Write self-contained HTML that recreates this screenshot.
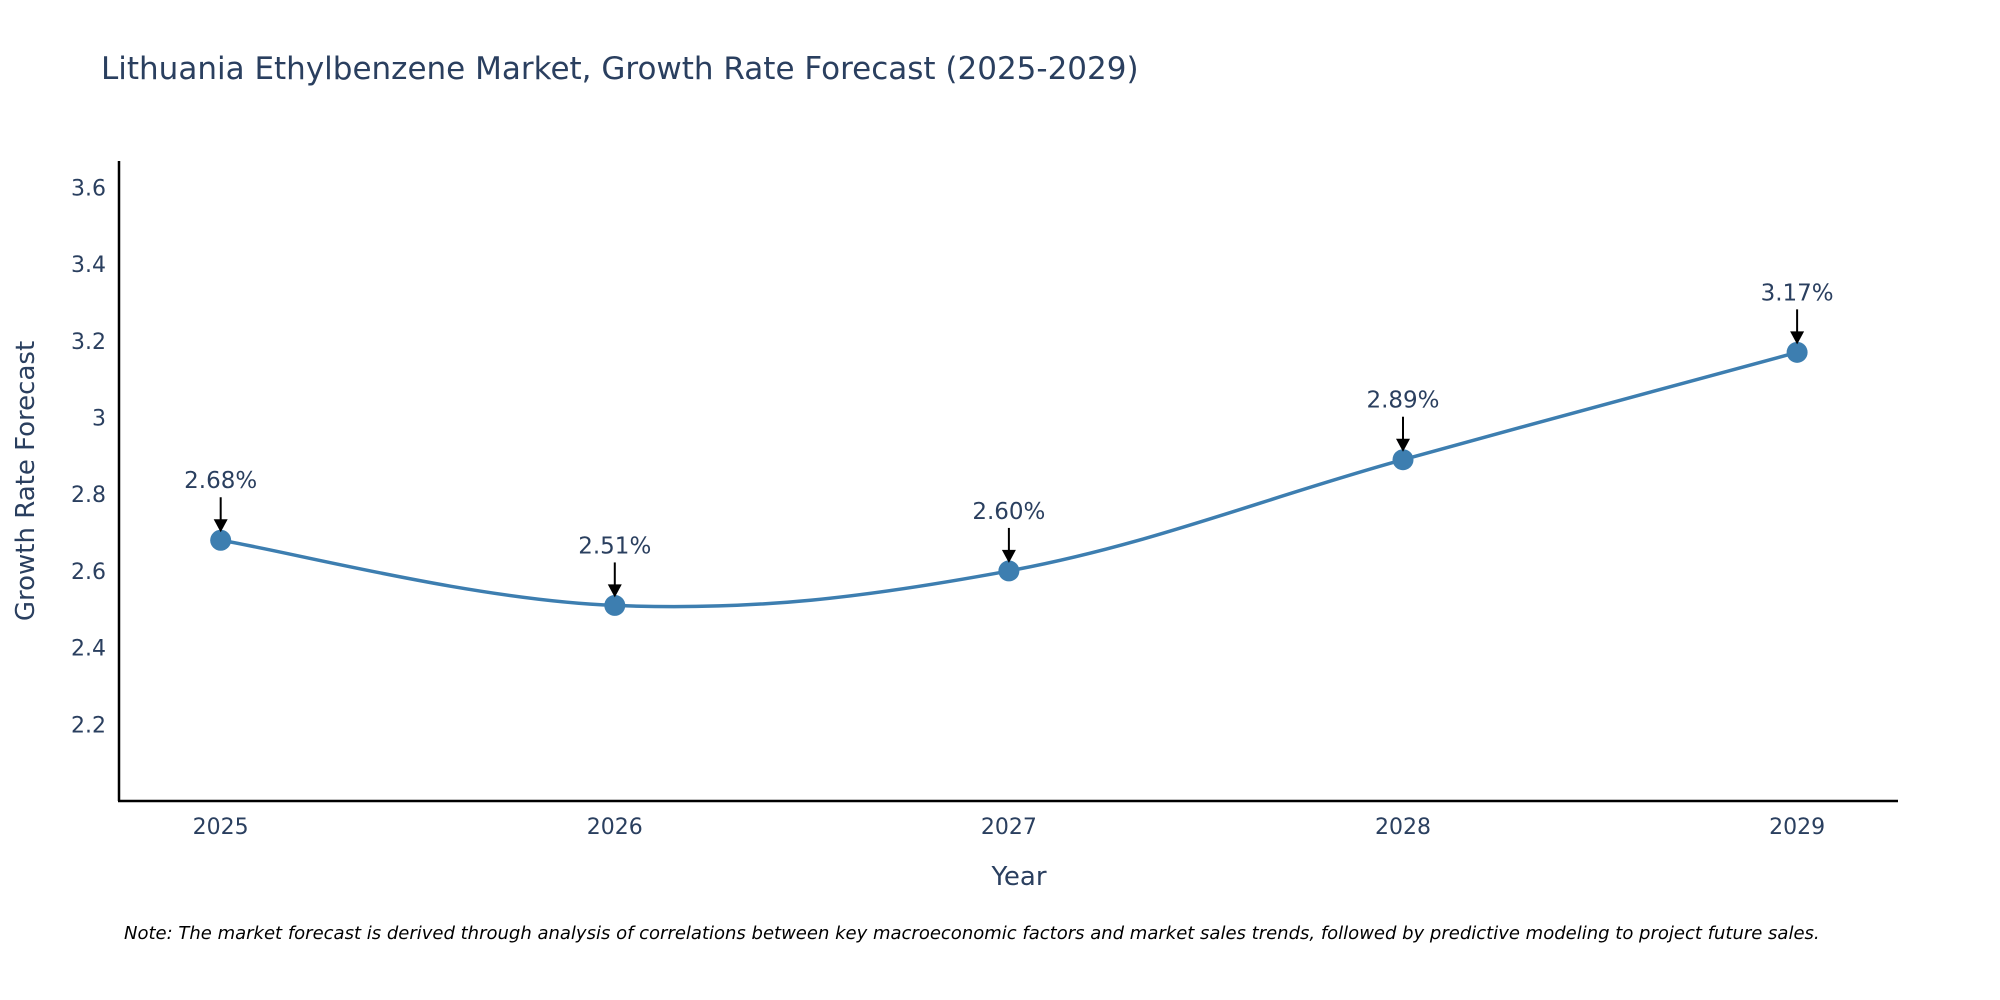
<!DOCTYPE html>
<html><head><meta charset="utf-8"><style>
html,body{margin:0;padding:0;background:#fff;}
svg{display:block;font-family:"DejaVu Sans","Liberation Sans",sans-serif;}
</style></head><body>
<svg id="chart" width="2000" height="1000">
<text x="101" y="79" font-size="31" fill="#2a3f5f">Lithuania Ethylbenzene Market, Growth Rate Forecast (2025-2029)</text>
<g id="yticks"></g>
<g id="xticks"></g>
<path id="line" fill="none" stroke="#3d7eb0" stroke-width="3.5"></path>
<g id="points"></g>
<g id="annos"></g>
<line x1="119" y1="161" x2="119" y2="801" stroke="#000" stroke-width="2.5"/>
<line x1="118" y1="801" x2="1898" y2="801" stroke="#000" stroke-width="2.5"/>
<text x="1019" y="885" font-size="26" fill="#2a3f5f" text-anchor="middle">Year</text>
<text transform="translate(34,481) rotate(-90)" font-size="26" fill="#2a3f5f" text-anchor="middle">Growth Rate Forecast</text>
<text x="124" y="939" font-size="18" font-style="italic" fill="#000">Note: The market forecast is derived through analysis of correlations between key macroeconomic factors and market sales trends, followed by predictive modeling to project future sales.</text>
</svg>
<script>
const years = [2025, 2026, 2027, 2028, 2029];
const values = [2.68, 2.51, 2.60, 2.89, 3.17];
const labels = ["2.68%", "2.51%", "2.60%", "2.89%", "3.17%"];
const yTicks = [2.2, 2.4, 2.6, 2.8, 3, 3.2, 3.4, 3.6];
const yTickLabels = ["2.2", "2.4", "2.6", "2.8", "3", "3.2", "3.4", "3.6"];

const X0 = 119, X1 = 1898, Y0 = 801, Y1 = 161;
const xMin = 2024.742, xMax = 2029.256, yMin = 2.0, yMax = 3.669;
const xs = v => X0 + (v - xMin) / (xMax - xMin) * (X1 - X0);
const ys = v => Y0 - (v - yMin) / (yMax - yMin) * (Y0 - Y1);
const NS = "http://www.w3.org/2000/svg";
function mk(tag, attrs, parent) {
  const e = document.createElementNS(NS, tag);
  for (const k in attrs) e.setAttribute(k, attrs[k]);
  parent.appendChild(e); return e;
}
const yg = document.getElementById('yticks');
yTicks.forEach((t, i) => {
  const e = mk('text', {x: 106, y: ys(t) + 8, 'font-size': 22, fill: '#2a3f5f', 'text-anchor': 'end'}, yg);
  
  
  e.textContent = yTickLabels[i];
});
const xg = document.getElementById('xticks');
years.forEach(y => {
  const e = mk('text', {x: xs(y), y: 834, 'font-size': 22, fill: '#2a3f5f', 'text-anchor': 'middle'}, xg);
  
  
  e.textContent = String(y);
});
const P = years.map((y, i) => [xs(y), ys(values[i])]);
let d = `M${P[0][0]},${P[0][1]}`;
const s = 0.18;
for (let i = 0; i < P.length - 1; i++) {
  const p0 = P[Math.max(0, i - 1)], p1 = P[i], p2 = P[i + 1], p3 = P[Math.min(P.length - 1, i + 2)];
  const c1 = [p1[0] + (p2[0] - p0[0]) * s, p1[1] + (p2[1] - p0[1]) * s];
  const c2 = [p2[0] - (p3[0] - p1[0]) * s, p2[1] - (p3[1] - p1[1]) * s];
  d += ` C${c1[0]},${c1[1]} ${c2[0]},${c2[1]} ${p2[0]},${p2[1]}`;
}
document.getElementById('line').setAttribute('d', d);
const pg = document.getElementById('points'), ag = document.getElementById('annos');
P.forEach((p, i) => {
  const c = mk('circle', {cx: p[0], cy: p[1], r: 10.5, fill: '#3d7eb0'}, pg);
  
  
  const l = mk('line', {x1: p[0], y1: p[1] - 43, x2: p[0], y2: p[1] - 20, stroke: '#000', 'stroke-width': 2}, ag);
  
  
  const h = mk('path', {d: `M${p[0]-7},${p[1]-21} L${p[0]+7},${p[1]-21} L${p[0]},${p[1]-8} Z`, fill: '#000'}, ag);
  
  
  const t = mk('text', {x: p[0], y: p[1] - 52, 'font-size': 23, fill: '#2a3f5f', 'text-anchor': 'middle'}, ag);
  
  
  t.textContent = labels[i];
});
</script>
</body></html>
